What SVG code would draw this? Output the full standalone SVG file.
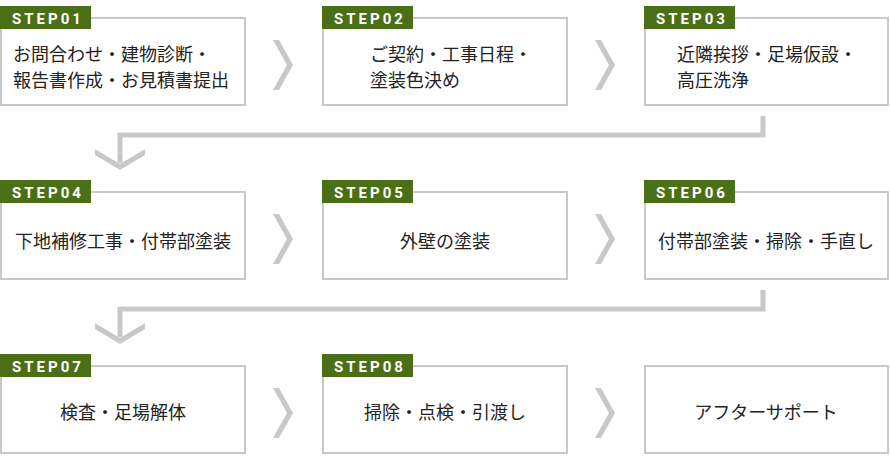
<svg xmlns="http://www.w3.org/2000/svg" width="890" height="464" viewBox="0 0 890 464">
<style>
.box{fill:#fff;stroke:#c8c8c8;stroke-width:2}
.tab{fill:#4b6f17}
.tt{font-family:Roboto,"DejaVu Sans",sans-serif;font-weight:700;font-size:15px;letter-spacing:3px;fill:#fff}
.t{font-family:"Noto Sans CJK JP","Noto Sans",sans-serif;font-size:18px;fill:#222}
.c{text-anchor:middle}
.ln{fill:none;stroke:#c8c8c8;stroke-width:5}
.ch{fill:#c8c8c8}
</style>
<rect width="890" height="464" fill="#fff"/>
<g id="connectors">
<path class="ln" d="M763,116 V135 H120 V163"/>
<polygon class="ch" points="95,149 120,164 145,149 145,155 120,170 95,155"/>
<path class="ln" d="M763,290 V309 H120 V337"/>
<polygon class="ch" points="95,323 120,338 145,323 145,329 120,344 95,329"/>
<polygon class="ch" points="273,40 279,40 293,65 279,90 273,90 287,65"/>
<polygon class="ch" points="595,40 601,40 615,65 601,90 595,90 609,65"/>
<polygon class="ch" points="273,214 279,214 293,239 279,264 273,264 287,239"/>
<polygon class="ch" points="595,214 601,214 615,239 601,264 595,264 609,239"/>
<polygon class="ch" points="273,388 279,388 293,413 279,438 273,438 287,413"/>
<polygon class="ch" points="595,388 601,388 615,413 601,438 595,438 609,413"/>
</g>
<g id="step01">
<rect class="box" x="1" y="18" width="244" height="87"/>
<rect class="tab" x="0" y="6" width="91" height="23"/>
<text class="tt" x="12" y="24">STEP01</text>
<text class="t" x="13" y="61">お問合わせ・建物診断・</text>
<text class="t" x="13" y="87">報告書作成・お見積書提出</text>
</g>
<g id="step02">
<rect class="box" x="323" y="18" width="244" height="87"/>
<rect class="tab" x="322" y="6" width="91" height="23"/>
<text class="tt" x="334" y="24">STEP02</text>
<text class="t" x="370" y="61">ご契約・工事日程・</text>
<text class="t" x="370" y="87">塗装色決め</text>
</g>
<g id="step03">
<rect class="box" x="645" y="18" width="243" height="87"/>
<rect class="tab" x="644" y="6" width="91" height="23"/>
<text class="tt" x="656" y="24">STEP03</text>
<text class="t" x="677" y="61">近隣挨拶・足場仮設・</text>
<text class="t" x="677" y="87">高圧洗浄</text>
</g>
<g id="step04">
<rect class="box" x="1" y="192" width="244" height="87"/>
<rect class="tab" x="0" y="180" width="91" height="23"/>
<text class="tt" x="12" y="198">STEP04</text>
<text class="t c" x="123" y="248">下地補修工事・付帯部塗装</text>
</g>
<g id="step05">
<rect class="box" x="323" y="192" width="244" height="87"/>
<rect class="tab" x="322" y="180" width="91" height="23"/>
<text class="tt" x="334" y="198">STEP05</text>
<text class="t c" x="445" y="248">外壁の塗装</text>
</g>
<g id="step06">
<rect class="box" x="645" y="192" width="243" height="87"/>
<rect class="tab" x="644" y="180" width="91" height="23"/>
<text class="tt" x="656" y="198">STEP06</text>
<text class="t c" x="766" y="248">付帯部塗装・掃除・手直し</text>
</g>
<g id="step07">
<rect class="box" x="1" y="366" width="244" height="87"/>
<rect class="tab" x="0" y="354" width="91" height="23"/>
<text class="tt" x="12" y="372">STEP07</text>
<text class="t c" x="123" y="419">検査・足場解体</text>
</g>
<g id="step08">
<rect class="box" x="323" y="366" width="244" height="87"/>
<rect class="tab" x="322" y="354" width="91" height="23"/>
<text class="tt" x="334" y="372">STEP08</text>
<text class="t c" x="445" y="419">掃除・点検・引渡し</text>
</g>
<g id="aftersupport">
<rect class="box" x="645" y="366" width="243" height="87"/>
<text class="t c" x="766" y="419">アフターサポート</text>
</g>
</svg>
